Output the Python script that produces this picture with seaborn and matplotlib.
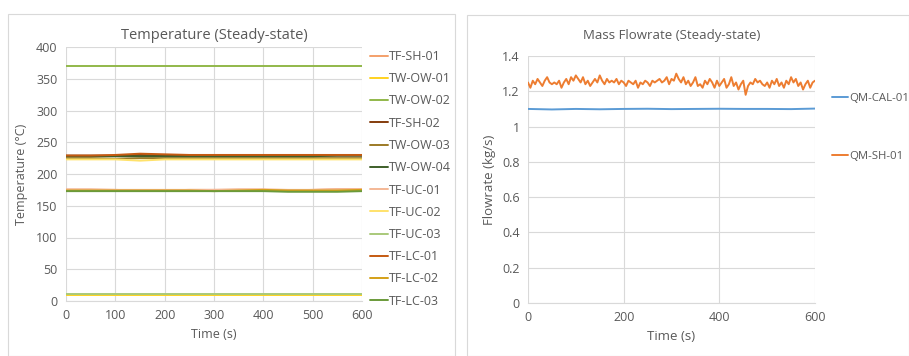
import numpy as np
import pandas as pd
import matplotlib
matplotlib.use("Agg")
import matplotlib.pyplot as plt
import seaborn as sns
from matplotlib.patches import Rectangle

sns.set_theme(style="white")
plt.rcParams['font.family'] = ['Open Sans', 'DejaVu Sans']

# ---------------- data ----------------
t_temp = [0, 50, 100, 150, 200, 250, 300, 350, 400, 450, 500, 550, 600]
temp_names = ["TF-SH-01", "TW-OW-01", "TW-OW-02", "TF-SH-02", "TW-OW-03", "TW-OW-04",
              "TF-UC-01", "TF-UC-02", "TF-UC-03", "TF-LC-01", "TF-LC-02", "TF-LC-03"]
tf_sh_01 = [175, 175, 175, 174, 174, 175, 175, 175, 175, 174, 175, 176, 176]
tw_ow_01 = [10, 10, 10, 10, 10, 10, 10, 10, 10, 10, 10, 10, 10]
tw_ow_02 = [370, 370, 370, 370, 370, 370, 370, 370, 370, 370, 370, 370, 370]
tf_sh_02 = [229, 229, 229, 230, 229, 229, 229, 229, 229, 229, 229, 229, 229]
tw_ow_03 = [225, 225, 224, 225, 225, 225, 225, 225, 225, 225, 225, 225, 225]
tw_ow_04 = [228, 228, 228, 228, 228, 228, 228, 228, 228, 228, 228, 229, 229]
tf_uc_01 = [176, 176, 175, 175, 175, 175, 175, 176, 176, 175, 175, 176, 176]
tf_uc_02 = [223, 223, 223, 221, 223, 223, 223, 223, 223, 223, 223, 223, 223]
tf_uc_03 = [11, 11, 11, 11, 11, 11, 11, 11, 11, 11, 11, 11, 11]
tf_lc_01 = [229, 229, 230, 232, 231, 230, 230, 230, 230, 230, 230, 230, 230]
tf_lc_02 = [174, 174, 174, 174, 174, 174, 173, 174, 175, 174, 174, 174, 175]
tf_lc_03 = [173, 173, 173, 173, 173, 173, 173, 173, 173, 172, 172, 172, 173]
temp_series = [tf_sh_01, tw_ow_01, tw_ow_02, tf_sh_02, tw_ow_03, tw_ow_04,
               tf_uc_01, tf_uc_02, tf_uc_03, tf_lc_01, tf_lc_02, tf_lc_03]
temp_colors = ["#F4A06A", "#FFD21F", "#92B84A", "#843C0C", "#9C7A26", "#3E5F2A",
               "#F4B896", "#FFE26B", "#A9C97A", "#C55A11", "#D4A017", "#6A9A3A"]

t_flow_cal = [0, 50, 100, 150, 200, 250, 300, 350, 400, 450, 500, 550, 600]
qm_cal_01 = [1.100, 1.097, 1.100, 1.098, 1.100, 1.101, 1.099, 1.100, 1.101, 1.100, 1.100, 1.099, 1.102]
t_flow_sh = list(range(0, 601, 5))
qm_sh_01 = [1.25, 1.22, 1.26, 1.24, 1.27, 1.25, 1.23, 1.26, 1.28, 1.25, 1.24,
            1.25, 1.24, 1.26, 1.22, 1.25, 1.27, 1.24, 1.28, 1.26, 1.29,
            1.27, 1.25, 1.28, 1.24, 1.26, 1.23, 1.25, 1.27, 1.25, 1.29,
            1.26, 1.24, 1.27, 1.25, 1.26, 1.25, 1.27, 1.24, 1.26, 1.25,
            1.23, 1.26, 1.25, 1.24, 1.26, 1.22, 1.25, 1.24, 1.26, 1.25,
            1.23, 1.26, 1.25, 1.26, 1.27, 1.25, 1.26, 1.28, 1.24, 1.27,
            1.26, 1.30, 1.27, 1.25, 1.28, 1.24, 1.26, 1.23, 1.25, 1.28,
            1.23, 1.24, 1.22, 1.26, 1.24, 1.27, 1.25, 1.22, 1.26, 1.23,
            1.25, 1.27, 1.22, 1.24, 1.28, 1.23, 1.25, 1.21, 1.24, 1.26,
            1.18, 1.23, 1.25, 1.24, 1.27, 1.25, 1.26, 1.24, 1.23, 1.25,
            1.22, 1.26, 1.24, 1.27, 1.23, 1.25, 1.22, 1.26, 1.24, 1.28,
            1.25, 1.27, 1.23, 1.25, 1.21, 1.24, 1.26, 1.22, 1.25, 1.26]
flow_names = ["QM-CAL-01", "QM-SH-01"]
flow_colors = ["#5B9BD5", "#ED7D31"]

# ---------------- frames ----------------
temp_df = pd.concat([pd.DataFrame({"Time": t_temp, "Value": s, "Series": n})
                     for n, s in zip(temp_names, temp_series)], ignore_index=True)
flow_df = pd.concat([pd.DataFrame({"Time": t_flow_cal, "Value": qm_cal_01, "Series": flow_names[0]}),
                     pd.DataFrame({"Time": t_flow_sh, "Value": qm_sh_01, "Series": flow_names[1]})],
                    ignore_index=True)

W, H = 909, 356
fig = plt.figure(figsize=(W / 100, H / 100), dpi=100)
fig.patch.set_facecolor("white")

# panel borders
for (x0, y0, x1, y1) in [(8, 14, 455, 356), (467, 15, 909, 356)]:
    fig.patches.append(Rectangle((x0 / W, 1 - y1 / H), (x1 - x0) / W, (y1 - y0) / H,
                                 transform=fig.transFigure, fill=False,
                                 edgecolor="#D9D9D9", linewidth=0.8))

txt = "#595959"
grid = "#D9D9D9"

def style(ax):
    ax.set_facecolor("white")
    for s in ["top", "right", "left"]:
        ax.spines[s].set_visible(False)
    ax.spines["bottom"].set_color(grid)
    ax.spines["bottom"].set_linewidth(0.8)
    ax.grid(True, color=grid, linewidth=0.8)
    ax.set_axisbelow(True)
    ax.tick_params(axis="both", length=0, labelsize=9, colors=txt, pad=6)

# left
ax1 = fig.add_axes([66 / W, 1 - 301 / H, 296 / W, 254 / H])
sns.lineplot(data=temp_df, x="Time", y="Value", hue="Series", hue_order=temp_names,
             palette=dict(zip(temp_names, temp_colors)), ax=ax1, linewidth=1.4, legend=True)
style(ax1)
ax1.set_xlim(0, 600)
ax1.set_ylim(0, 400)
ax1.set_xticks(range(0, 601, 100))
ax1.set_yticks(range(0, 401, 50))
ax1.set_xlabel("Time (s)", fontsize=9, color=txt, labelpad=4)
ax1.set_ylabel("Temperature (°C)", fontsize=9, color=txt, labelpad=6)
ax1.set_title("Temperature (Steady-state)", fontsize=10.5, color=txt, pad=6)
h, l = ax1.get_legend_handles_labels()
ax1.legend(h, l, loc="upper left", bbox_to_anchor=(370 / W, 1 - 50 / H),
           bbox_transform=fig.transFigure, frameon=False, fontsize=9,
           handlelength=1.4, handletextpad=0.1, labelspacing=0.74, labelcolor=txt,
           borderaxespad=0, borderpad=0)

# right
ax2 = fig.add_axes([528 / W, 1 - 303 / H, 287 / W, 247 / H])
sns.lineplot(data=flow_df, x="Time", y="Value", hue="Series", hue_order=flow_names,
             palette=dict(zip(flow_names, flow_colors)), ax=ax2, linewidth=1.4, legend=True)
style(ax2)
ax2.set_xlim(0, 600)
ax2.set_ylim(0, 1.4)
ax2.set_xticks(range(0, 601, 200))
ax2.set_yticks(np.arange(0, 1.41, 0.2))
ax2.set_yticklabels(["0", "0.2", "0.4", "0.6", "0.8", "1", "1.2", "1.4"])
ax2.set_xlabel("Time (s)", fontsize=9.5, color=txt, labelpad=4)
ax2.set_ylabel("Flowrate (kg/s)", fontsize=9.5, color=txt, labelpad=4)
ax2.set_title("Mass Flowrate (Steady-state)", fontsize=9.5, color=txt, pad=12)
h, l = ax2.get_legend_handles_labels()
ax2.legend(h, l, loc="upper left", bbox_to_anchor=(832 / W, 1 - 93 / H),
           bbox_transform=fig.transFigure, frameon=False, fontsize=8.2,
           handlelength=1.4, handletextpad=0.1, labelspacing=4.1, labelcolor=txt,
           borderaxespad=0, borderpad=0)

fig.savefig("out.png", dpi=100, facecolor="white")
